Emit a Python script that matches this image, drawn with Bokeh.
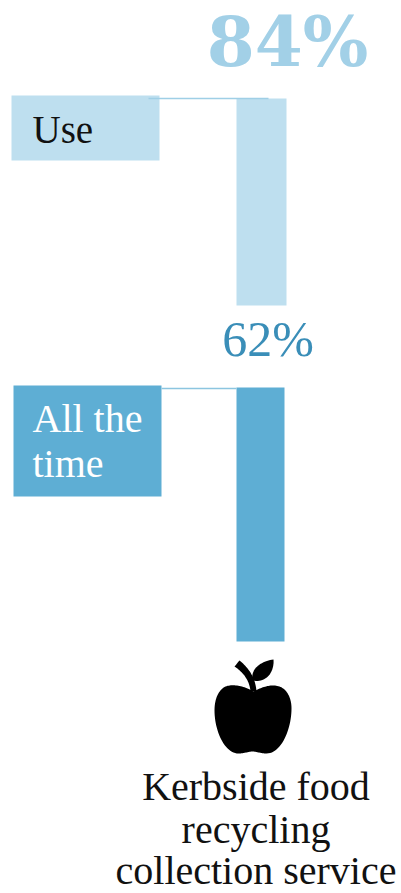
from bokeh.embed import file_html
from bokeh.models import Range1d
from bokeh.plotting import figure
from bokeh.resources import INLINE
from bokeh.core.properties import value

# Share of households with a kerbside food recycling collection service
series_names = ["Use", "All the\ntime"]
series_values = [84, 62]
value_labels = ["84%", "62%"]
service_label = ["Kerbside food", "recycling", "collection service"]

W, H = 401, 893
SERIF = value("Liberation Serif")
HEAVY_SERIF = value("DejaVu Serif")


def bezier(p0, p1, p2, p3, n=24):
    pts = []
    for i in range(n + 1):
        t = i / n
        u = 1 - t
        pts.append((u**3 * p0[0] + 3 * u * u * t * p1[0] + 3 * u * t * t * p2[0] + t**3 * p3[0],
                    u**3 * p0[1] + 3 * u * u * t * p1[1] + 3 * u * t * t * p2[1] + t**3 * p3[1]))
    return pts


def path(*segments):
    pts = []
    for seg in segments:
        pts += bezier(*seg)
    return [q[0] for q in pts], [q[1] for q in pts]


p = figure(width=W, height=H, output_backend="svg", toolbar_location=None,
           x_range=Range1d(0, W), y_range=Range1d(H, 0),
           min_border=0, outline_line_color=None, background_fill_color="white")
p.axis.visible = False
p.grid.visible = False


def label(x, baseline, text, size, color, font=SERIF, align="left", style="normal"):
    # The renderer sets alphabetic text about 0.37 em low, so lift it back onto the baseline
    p.text([x], [baseline - 0.37 * size], text=[text], text_font=font, text_font_size=f"{size}px",
           text_font_style=style, text_color=color, text_align=align, text_baseline="alphabetic")


# Each column has its own vertical scale, anchored at its baseline and top
columns = [
    dict(range="use", base=305, top=98, left=236, right=286, fill="#BEDFEF"),
    dict(range="always", base=641, top=387, left=236, right=284, fill="#5EAED4"),
]
for col, v in zip(columns, series_values):
    per_unit = (col["base"] - col["top"]) / v
    p.extra_y_ranges[col["range"]] = Range1d(-(H - col["base"]) / per_unit, col["base"] / per_unit)
    p.vbar(x=[(col["left"] + col["right"]) / 2], width=col["right"] - col["left"], bottom=[0], top=[v],
           y_range_name=col["range"], fill_color=col["fill"], line_color=None)

# Label boxes and their leader lines
p.quad(left=[11], right=[159], top=[95], bottom=[160], fill_color="#BEDFEF", line_color=None)
p.quad(left=[13], right=[161], top=[385], bottom=[496], fill_color="#5EAED4", line_color=None)
p.line([148, 268], [98, 98], line_color="#9FCFE6", line_width=1.5)
p.line([161, 236], [388, 388], line_color="#8CC5E0", line_width=1.5)

# Value labels
label(287, 67, value_labels[0], 69, "#A2D0E7", font=HEAVY_SERIF, align="center", style="bold")
label(267.5, 357, value_labels[1], 50, "#3A8EB8", align="center")

# Text inside the boxes
label(32, 143, series_names[0], 39, "#111111")
for line, y in zip(series_names[1].split("\n"), [433, 478]):
    label(32, y, line, 40, "white")

# Service caption
for line, y in zip(service_label, [801, 844, 885]):
    label(255.5, y, line, 40, "#111111", align="center")

# Apple icon: body, stem and leaf
bx, by = path(
    ((253, 691), (245, 686), (233, 683), (225, 686)),
    ((225, 686), (217, 690), (214, 700), (214, 710)),
    ((214, 710), (214, 730), (224, 753), (238, 753)),
    ((238, 753), (244, 753), (248, 751), (252, 751)),
    ((252, 751), (256, 751), (260, 753), (266, 753)),
    ((266, 753), (281, 753), (291, 728), (291, 708)),
    ((291, 708), (291, 698), (287, 689), (279, 686)),
    ((279, 686), (270, 683), (261, 687), (253, 691)),
)
p.patch(bx, by, fill_color="black", line_color=None)
sx, sy = path(
    ((234, 666), (243, 672), (249, 680), (250, 691)),
    ((250, 691), (252, 691), (254, 691), (256, 691)),
    ((256, 691), (255, 678), (249, 668), (239, 660)),
    ((239, 660), (237, 662), (236, 664), (234, 666)),
)
p.patch(sx, sy, fill_color="black", line_color=None)
lx, ly = path(
    ((252, 680), (250, 669), (259, 661), (273, 659)),
    ((273, 659), (274, 670), (267, 683), (252, 680)),
)
p.patch(lx, ly, fill_color="black", line_color=None)

open("out.html", "w").write(file_html(p, INLINE))
